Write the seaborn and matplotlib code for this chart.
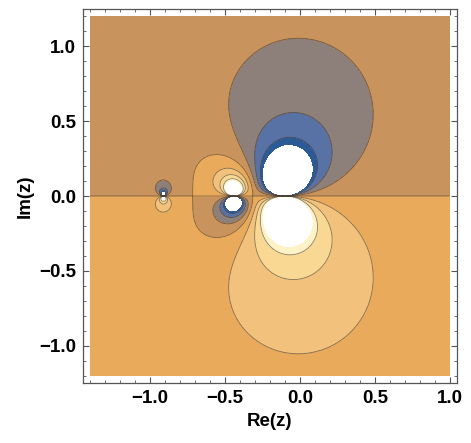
import numpy as np
import matplotlib
matplotlib.use("Agg")
import matplotlib.pyplot as plt
import seaborn as sns
from matplotlib.ticker import MultipleLocator

pole_x = [-0.10, -0.44, -0.91]
pole_w = [1.43, -0.50, 0.107]

# contour levels (white = clipped beyond the outer ones)
levels = [-3.5, -3, -2, -1, 0, 1, 2, 3, 3.5]
band_colors = ['#2B5B96', '#5872A6', '#8D807A', '#C9935D',
               '#E9AA5B', '#F2C17B', '#F9D894', '#FEF2C6']
line_levels = [-3, -2, -1, 0, 1, 2, 3]

x_range = [-1.4, 1.0]
y_range = [-1.2, 1.2]
xticks = [-1.0, -0.5, 0.0, 0.5, 1.0]
yticks = [-1.0, -0.5, 0.0, 0.5, 1.0]

sns.set_theme(style='ticks')
plt.rcParams['font.family'] = ['Liberation Sans', 'DejaVu Sans']

# field: Im of sum of simple poles
x = np.linspace(x_range[0], x_range[1], 700)
y = np.linspace(y_range[0], y_range[1], 700)
X, Y = np.meshgrid(x, y)
Z = X + 1j * Y
F = np.zeros_like(X)
for px, pw in zip(pole_x, pole_w):
    F += np.imag(pw / (Z - px))

fig = plt.figure(figsize=(4.71, 4.43), dpi=100)
ax = fig.add_axes([0.176, 0.1354, 0.794, 0.8442])

ax.contourf(X, Y, F, levels=levels, colors=band_colors)
ax.contour(X, Y, F, levels=line_levels, colors='#3a3028', linewidths=0.6,
           alpha=0.6, linestyles='solid')

pad = 0.02 * 2.4
ax.set_xlim(x_range[0] - pad, x_range[1] + pad)
ax.set_ylim(y_range[0] - pad, y_range[1] + pad)

ax.set_xticks(xticks)
ax.set_yticks(yticks)
ax.xaxis.set_minor_locator(MultipleLocator(0.1))
ax.yaxis.set_minor_locator(MultipleLocator(0.1))
ax.tick_params(which='both', direction='in', top=True, right=True,
               color='#555555', labelcolor='black')
ax.tick_params(which='major', length=4.5, width=0.8, labelsize=13.5, pad=5)
ax.tick_params(which='minor', length=2.5, width=0.6)
for lab in ax.get_xticklabels() + ax.get_yticklabels():
    lab.set_fontweight('bold')
for sp in ax.spines.values():
    sp.set_color('#555555')
    sp.set_linewidth(0.9)

ax.set_xlabel('Re(z)', fontsize=13.5, fontweight='bold', labelpad=4, color='black')
ax.set_ylabel('Im(z)', fontsize=13.5, fontweight='bold', labelpad=4, color='black')

fig.savefig('out.png', dpi=100)
